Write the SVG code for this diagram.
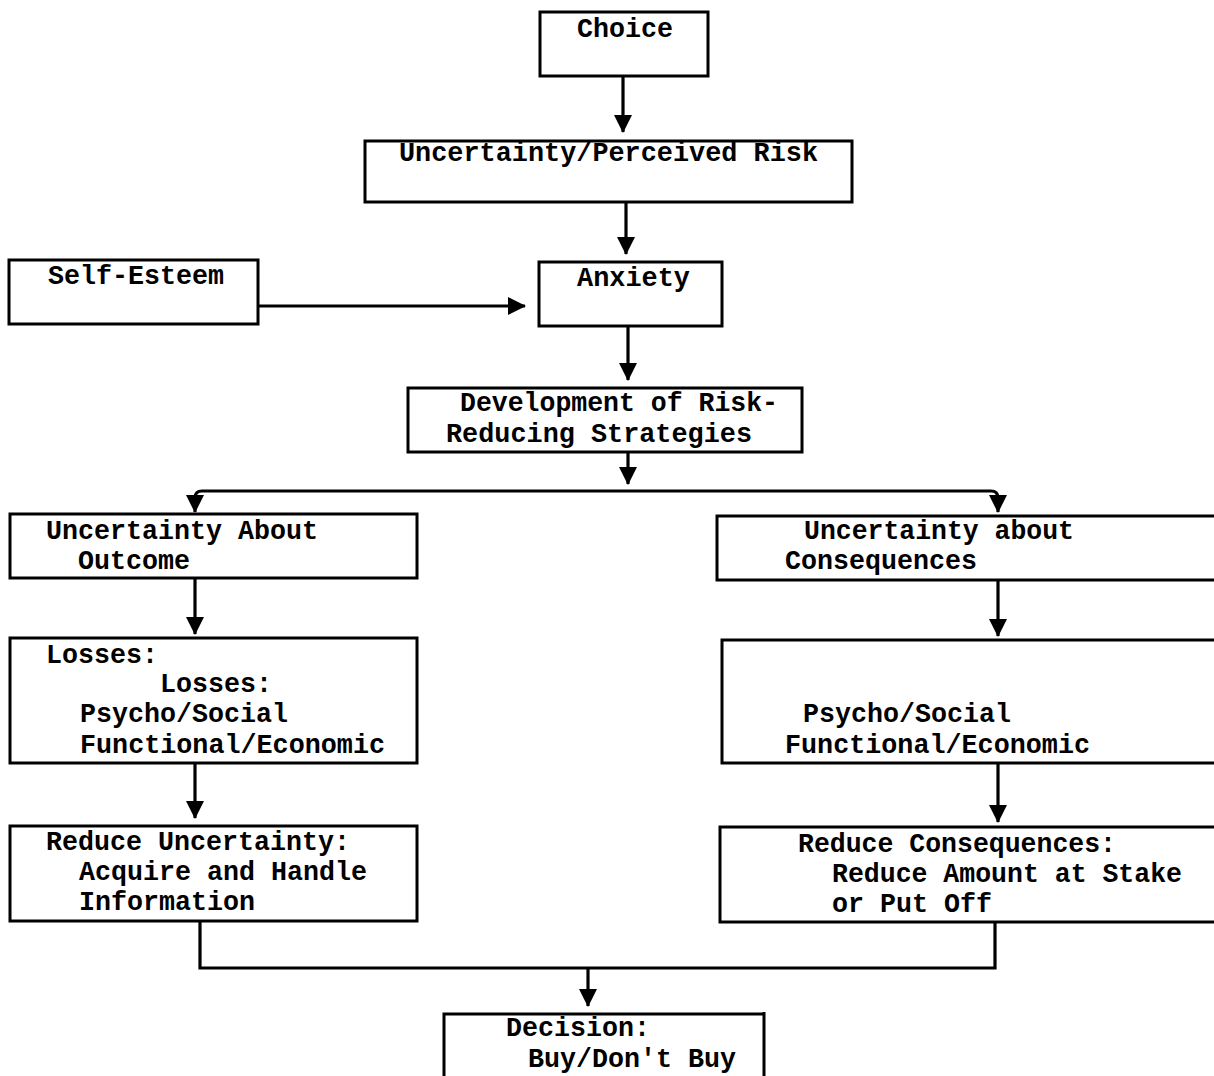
<svg xmlns="http://www.w3.org/2000/svg" width="1214" height="1076" viewBox="0 0 1214 1076">
<style>
.box{fill:none;stroke:#000;stroke-width:3}
.t{font-family:"Liberation Mono","Courier New",monospace;font-weight:bold;font-size:28px;fill:#000}
.c{fill:none;stroke:#000;stroke-width:3.2}
</style>
<defs>
<marker id="ah" viewBox="0 0 18 18" refX="17" refY="9" markerWidth="18" markerHeight="18" orient="auto" markerUnits="userSpaceOnUse">
<path d="M0 0 L18 9 L0 18 z" fill="#000"/>
</marker>
</defs>
<rect width="1214" height="1076" fill="#fff"/>
<g id="connectors">
<path class="c" d="M623 76 V132" marker-end="url(#ah)"/>
<path class="c" d="M626 202 V254" marker-end="url(#ah)"/>
<path class="c" d="M258 306 H525" marker-end="url(#ah)"/>
<path class="c" d="M628 326 V380" marker-end="url(#ah)"/>
<path class="c" d="M628 452 V484" marker-end="url(#ah)"/>
<path class="c" d="M610 491 H202 Q195 491 195 498 V512" marker-end="url(#ah)"/>
<path class="c" d="M610 491 H991 Q998 491 998 498 V512" marker-end="url(#ah)"/>
<path class="c" d="M195 578 V634" marker-end="url(#ah)"/>
<path class="c" d="M998 580 V636" marker-end="url(#ah)"/>
<path class="c" d="M195 763 V818" marker-end="url(#ah)"/>
<path class="c" d="M998 763 V822" marker-end="url(#ah)"/>
<path class="c" d="M200 921 V968 H995 V922"/>
<path class="c" d="M588 968 V1006" marker-end="url(#ah)"/>
</g>
<g id="choice">
<rect class="box" x="540" y="12" width="168" height="64"/>
<text class="t" x="577" y="37" textLength="96" lengthAdjust="spacingAndGlyphs">Choice</text>
</g>
<g id="uncertainty">
<rect class="box" x="365" y="141" width="487" height="61"/>
<text class="t" x="399" y="161" textLength="419" lengthAdjust="spacingAndGlyphs">Uncertainty/Perceived Risk</text>
</g>
<g id="self-esteem">
<rect class="box" x="9" y="260" width="249" height="64"/>
<text class="t" x="48" y="284" textLength="176" lengthAdjust="spacingAndGlyphs">Self-Esteem</text>
</g>
<g id="anxiety">
<rect class="box" x="539" y="262" width="183" height="64"/>
<text class="t" x="577" y="286" textLength="113" lengthAdjust="spacingAndGlyphs">Anxiety</text>
</g>
<g id="development">
<rect class="box" x="408" y="388" width="394" height="64"/>
<text class="t" x="460" y="411" textLength="318" lengthAdjust="spacingAndGlyphs">Development of Risk-</text>
<text class="t" x="446" y="442" textLength="306" lengthAdjust="spacingAndGlyphs">Reducing Strategies</text>
</g>
<g id="uncertainty-outcome">
<rect class="box" x="10" y="514" width="407" height="64"/>
<text class="t" x="46" y="539" textLength="272" lengthAdjust="spacingAndGlyphs">Uncertainty About</text>
<text class="t" x="78" y="569" textLength="112" lengthAdjust="spacingAndGlyphs">Outcome</text>
</g>
<g id="uncertainty-consequences">
<rect class="box" x="717" y="516" width="500" height="64"/>
<text class="t" x="804" y="539" textLength="270" lengthAdjust="spacingAndGlyphs">Uncertainty about</text>
<text class="t" x="785" y="569" textLength="192" lengthAdjust="spacingAndGlyphs">Consequences</text>
</g>
<g id="losses-left">
<rect class="box" x="10" y="638" width="407" height="125"/>
<text class="t" x="46" y="663" textLength="112" lengthAdjust="spacingAndGlyphs">Losses:</text>
<text class="t" x="160" y="692" textLength="112" lengthAdjust="spacingAndGlyphs">Losses:</text>
<text class="t" x="80" y="722" textLength="208" lengthAdjust="spacingAndGlyphs">Psycho/Social</text>
<text class="t" x="80" y="753" textLength="305" lengthAdjust="spacingAndGlyphs">Functional/Economic</text>
</g>
<g id="losses-right">
<rect class="box" x="722" y="640" width="495" height="123"/>
<text class="t" x="803" y="722" textLength="208" lengthAdjust="spacingAndGlyphs">Psycho/Social</text>
<text class="t" x="785" y="753" textLength="305" lengthAdjust="spacingAndGlyphs">Functional/Economic</text>
</g>
<g id="reduce-uncertainty">
<rect class="box" x="10" y="826" width="407" height="95"/>
<text class="t" x="46" y="850" textLength="304" lengthAdjust="spacingAndGlyphs">Reduce Uncertainty:</text>
<text class="t" x="79" y="880" textLength="288" lengthAdjust="spacingAndGlyphs">Acquire and Handle</text>
<text class="t" x="79" y="910" textLength="176" lengthAdjust="spacingAndGlyphs">Information</text>
</g>
<g id="reduce-consequences">
<rect class="box" x="720" y="827" width="497" height="95"/>
<text class="t" x="798" y="852" textLength="318" lengthAdjust="spacingAndGlyphs">Reduce Consequences:</text>
<text class="t" x="832" y="882" textLength="350" lengthAdjust="spacingAndGlyphs">Reduce Amount at Stake</text>
<text class="t" x="832" y="912" textLength="160" lengthAdjust="spacingAndGlyphs">or Put Off</text>
</g>
<g id="decision">
<path class="box" d="M444 1078 V1014 H764 M764 1012 V1078"/>
<text class="t" x="506" y="1036" textLength="144" lengthAdjust="spacingAndGlyphs">Decision:</text>
<text class="t" x="528" y="1067" textLength="208" lengthAdjust="spacingAndGlyphs">Buy/Don't Buy</text>
</g>
</svg>
